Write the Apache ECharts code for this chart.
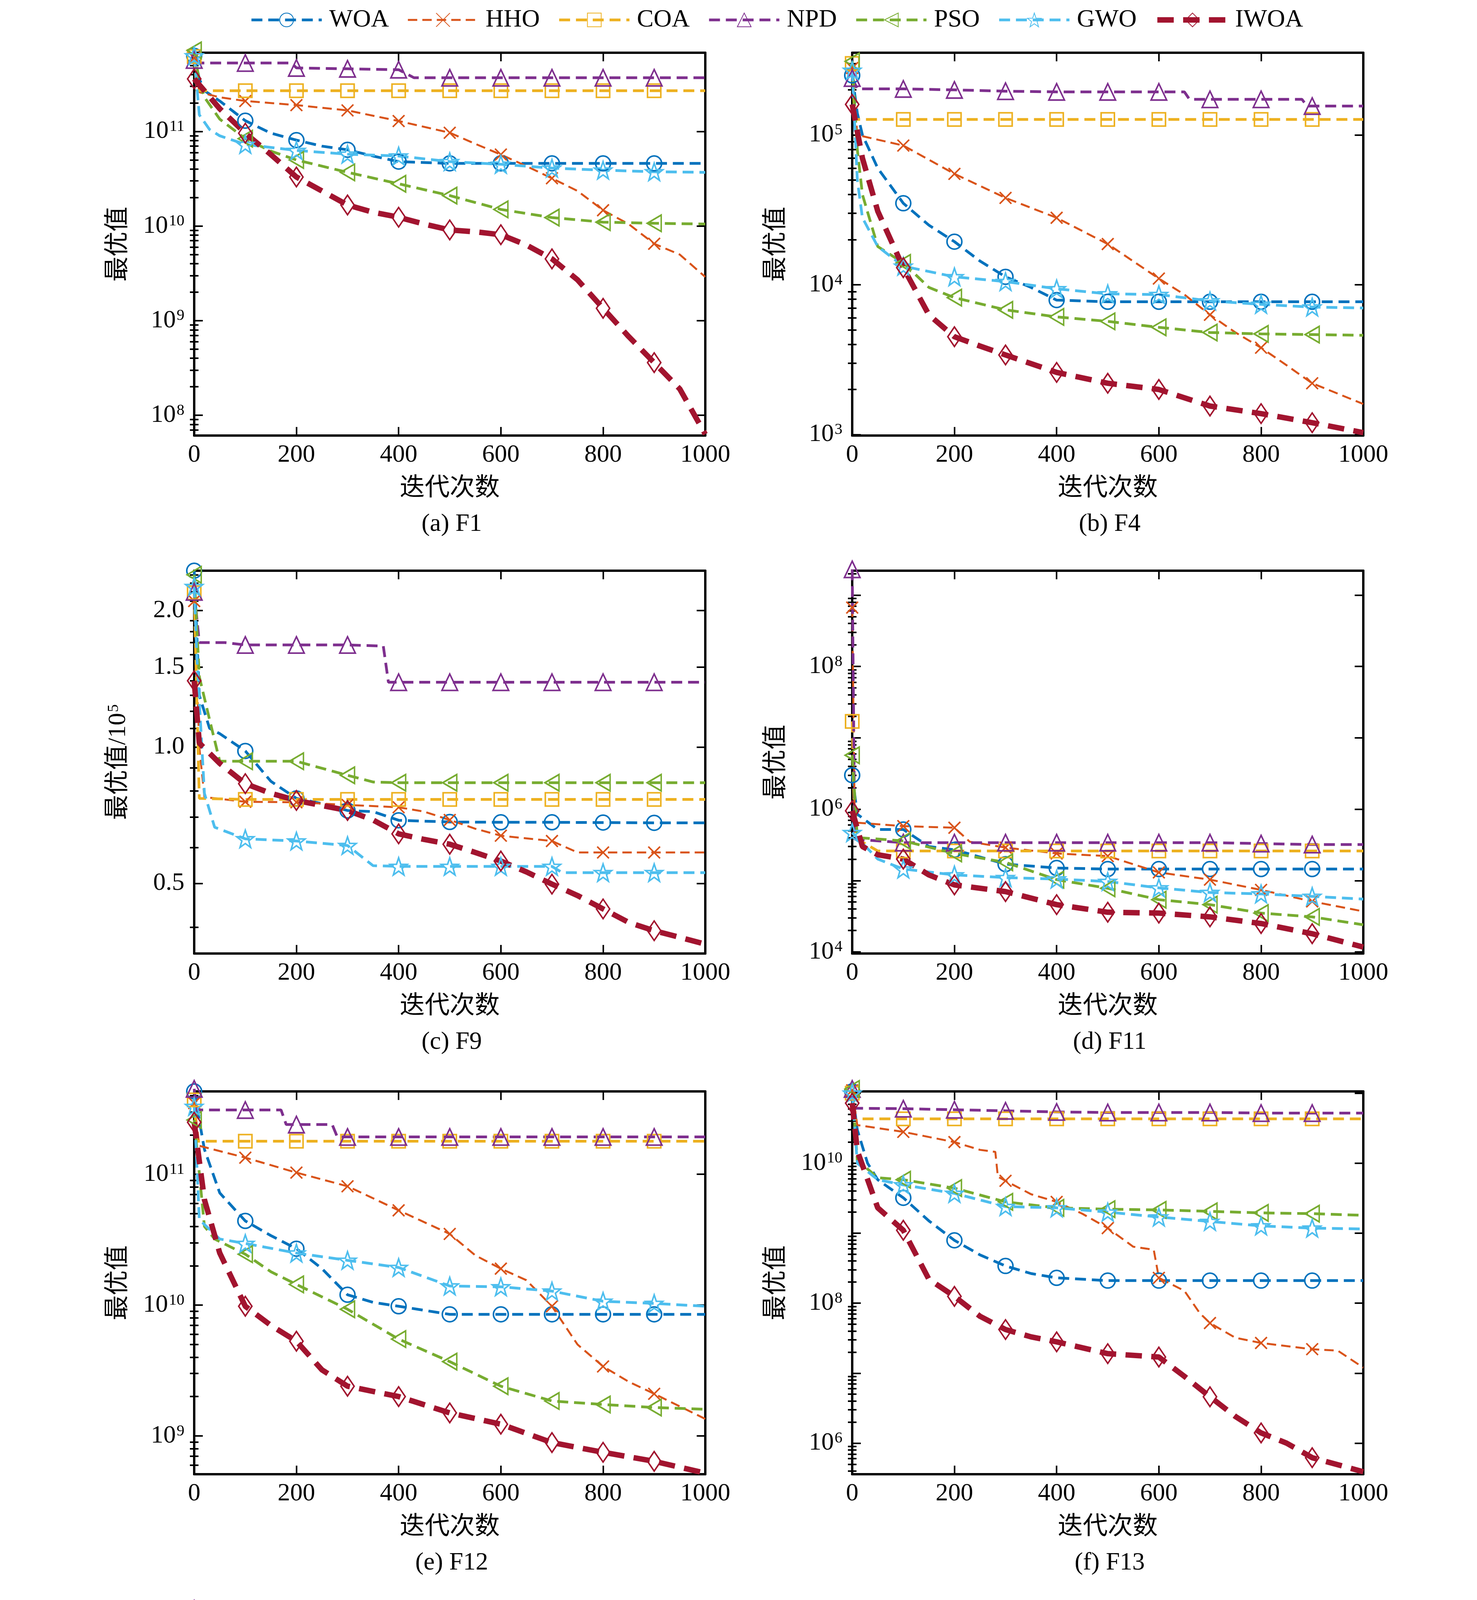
<!DOCTYPE html>
<html lang="zh">
<head>
<meta charset="UTF-8">
<title>收敛曲线</title>
<script src="https://cdn.jsdelivr.net/npm/echarts@6/dist/echarts.min.js"></script>
<style>
  html, body { margin: 0; padding: 0; background: #fff; }
  #main { width: 3780px; height: 6698px; }
</style>
</head>
<body>
<div id="main"></div>
<script>
// ---- 数据：[迭代次数, 最优值] ----
var SERIES_NAMES = ['WOA', 'HHO', 'COA', 'NPD', 'PSO', 'GWO', 'IWOA'];

// (a) F1
var F1_WOA = [[0,6.3e11],[10,3.6e11],[20,2.7e11],[50,2.1e11],[100,1.3e11],[150,9.6e10],[200,8.1e10],[250,7.0e10],[300,6.4e10],[350,5.5e10],[400,4.8e10],[500,4.6e10],[600,4.6e10],[700,4.6e10],[800,4.6e10],[900,4.6e10],[1000,4.6e10]];
var F1_HHO = [[0,6.0e11],[10,2.6e11],[50,2.3e11],[100,2.1e11],[200,1.9e11],[300,1.67e11],[400,1.29e11],[500,9.7e10],[550,7.4e10],[600,5.7e10],[650,4.3e10],[700,3.2e10],[750,2.35e10],[800,1.47e10],[850,1.05e10],[900,6.5e9],[950,5.0e9],[1000,2.9e9]];
var F1_COA = [[0,6.2e11],[5,2.7e11],[100,2.7e11],[200,2.7e11],[300,2.7e11],[400,2.7e11],[500,2.7e11],[600,2.7e11],[700,2.7e11],[800,2.7e11],[900,2.7e11],[1000,2.7e11]];
var F1_NPD = [[0,5.7e11],[10,5.3e11],[100,5.3e11],[190,5.3e11],[200,4.7e11],[300,4.6e11],[400,4.5e11],[430,3.7e11],[500,3.7e11],[600,3.7e11],[700,3.7e11],[800,3.7e11],[900,3.7e11],[1000,3.7e11]];
var F1_PSO = [[0,7.2e11],[10,3.4e11],[20,2.3e11],[50,1.35e11],[100,8.4e10],[150,6.2e10],[200,5.0e10],[300,3.7e10],[400,2.8e10],[500,2.1e10],[600,1.5e10],[700,1.23e10],[800,1.1e10],[900,1.07e10],[1000,1.05e10]];
var F1_GWO = [[0,6.3e11],[10,1.5e11],[30,1.05e11],[50,9.0e10],[100,7.3e10],[200,6.3e10],[300,5.75e10],[400,5.5e10],[500,4.8e10],[600,4.5e10],[700,4.1e10],[800,3.9e10],[900,3.75e10],[1000,3.7e10]];
var F1_IWOA = [[0,3.6e11],[50,1.74e11],[100,9.6e10],[150,5.7e10],[200,3.3e10],[250,2.35e10],[300,1.67e10],[350,1.4e10],[400,1.24e10],[450,1.05e10],[500,9.1e9],[550,8.7e9],[600,8.1e9],[650,6.3e9],[700,4.5e9],[750,2.7e9],[800,1.35e9],[850,6.8e8],[900,3.6e8],[950,1.9e8],[1000,6.3e7]];

// (b) F4
var F4_WOA = [[0,2.5e5],[10,1.4e5],[20,1.0e5],[50,6.0e4],[100,3.5e4],[150,2.5e4],[200,1.94e4],[250,1.44e4],[300,1.13e4],[350,9.6e3],[400,7.9e3],[500,7.7e3],[600,7.7e3],[700,7.7e3],[800,7.7e3],[900,7.7e3],[1000,7.7e3]];
var F4_HHO = [[0,2.8e5],[10,1.0e5],[50,9.3e4],[100,8.5e4],[200,5.5e4],[300,3.8e4],[400,2.8e4],[500,1.87e4],[600,1.1e4],[650,8.6e3],[700,6.3e3],[750,4.8e3],[800,3.8e3],[850,2.9e3],[900,2.2e3],[1000,1.6e3]];
var F4_COA = [[0,3.0e5],[5,1.27e5],[100,1.27e5],[200,1.27e5],[300,1.27e5],[400,1.27e5],[500,1.27e5],[600,1.27e5],[700,1.27e5],[800,1.27e5],[900,1.27e5],[1000,1.27e5]];
var F4_NPD = [[0,2.4e5],[10,2.03e5],[100,2.03e5],[200,2.0e5],[300,1.96e5],[400,1.94e5],[500,1.94e5],[600,1.94e5],[650,1.94e5],[660,1.73e5],[700,1.73e5],[800,1.73e5],[880,1.73e5],[890,1.56e5],[900,1.56e5],[1000,1.56e5]];
var F4_PSO = [[0,3.1e5],[10,8.0e4],[20,4.0e4],[50,1.8e4],[100,1.4e4],[150,9.6e3],[200,8.2e3],[300,6.8e3],[400,6.1e3],[500,5.7e3],[600,5.2e3],[700,4.8e3],[800,4.7e3],[900,4.65e3],[1000,4.6e3]];
var F4_GWO = [[0,2.7e5],[10,5.0e4],[20,2.8e4],[50,1.8e4],[100,1.33e4],[200,1.13e4],[300,1.05e4],[400,9.4e3],[500,8.7e3],[600,8.6e3],[700,7.8e3],[800,7.4e3],[900,7.1e3],[1000,7.0e3]];
var F4_IWOA = [[0,1.6e5],[20,7.0e4],[50,3.1e4],[100,1.3e4],[150,6.3e3],[200,4.5e3],[250,3.9e3],[300,3.4e3],[400,2.6e3],[500,2.2e3],[600,2.0e3],[700,1.55e3],[800,1.38e3],[900,1.2e3],[1000,1.03e3]];

// (c) F9，单位 10^5
var F9_WOA = [[0,2.45],[10,1.3],[30,1.1],[50,1.07],[100,0.98],[150,0.84],[200,0.77],[250,0.75],[300,0.724],[350,0.72],[400,0.689],[500,0.683],[600,0.682],[700,0.682],[800,0.681],[900,0.68],[1000,0.68]];
var F9_HHO = [[0,2.1],[10,1.0],[20,0.775],[100,0.757],[200,0.755],[300,0.745],[400,0.736],[450,0.72],[500,0.69],[550,0.66],[600,0.637],[700,0.62],[750,0.585],[800,0.585],[900,0.585],[1000,0.585]];
var F9_COA = [[0,2.19],[10,0.77],[100,0.766],[200,0.766],[300,0.766],[400,0.766],[500,0.766],[600,0.766],[700,0.766],[800,0.766],[900,0.766],[1000,0.766]];
var F9_NPD = [[0,2.2],[10,1.70],[60,1.70],[100,1.68],[200,1.68],[300,1.68],[370,1.67],[380,1.39],[400,1.39],[500,1.39],[600,1.39],[700,1.39],[800,1.39],[900,1.39],[1000,1.39]];
var F9_PSO = [[0,2.4],[10,1.43],[30,1.15],[50,0.93],[100,0.93],[200,0.93],[300,0.866],[350,0.837],[400,0.834],[500,0.834],[600,0.834],[700,0.834],[800,0.834],[900,0.834],[1000,0.834]];
var F9_GWO = [[0,2.26],[5,1.6],[20,0.79],[40,0.665],[100,0.627],[200,0.62],[300,0.606],[350,0.547],[400,0.545],[500,0.545],[600,0.545],[700,0.545],[720,0.528],[800,0.528],[900,0.528],[1000,0.528]];
var F9_IWOA = [[0,1.40],[10,1.02],[50,0.92],[100,0.83],[150,0.79],[200,0.762],[300,0.724],[350,0.69],[400,0.643],[450,0.625],[500,0.61],[550,0.585],[600,0.56],[650,0.53],[700,0.498],[750,0.47],[800,0.439],[850,0.41],[900,0.393],[950,0.38],[1000,0.367]];

// (d) F11
var F11_WOA = [[0,3.0e6],[10,8.5e5],[50,5.2e5],[100,5.2e5],[150,3.0e5],[200,2.7e5],[300,1.7e5],[400,1.5e5],[500,1.45e5],[600,1.45e5],[700,1.45e5],[800,1.45e5],[900,1.45e5],[1000,1.45e5]];
var F11_HHO = [[0,6.7e8],[5,6.5e5],[100,5.8e5],[200,5.5e5],[230,3.5e5],[300,2.9e5],[400,2.4e5],[500,2.2e5],[600,1.3e5],[700,1.03e5],[800,7.4e4],[900,5.1e4],[1000,3.7e4]];
var F11_COA = [[0,1.7e7],[5,4.0e5],[50,2.6e5],[100,2.6e5],[200,2.6e5],[300,2.6e5],[400,2.6e5],[500,2.6e5],[600,2.6e5],[700,2.6e5],[800,2.6e5],[900,2.6e5],[1000,2.6e5]];
var F11_NPD = [[0,2.3e9],[5,3.8e5],[100,3.4e5],[200,3.4e5],[300,3.4e5],[400,3.4e5],[500,3.4e5],[600,3.4e5],[700,3.4e5],[800,3.3e5],[900,3.2e5],[1000,3.2e5]];
var F11_PSO = [[0,5.7e6],[10,4.0e5],[100,3.6e5],[200,2.4e5],[300,1.8e5],[400,1.03e5],[500,7.8e4],[600,5.4e4],[700,4.6e4],[800,3.5e4],[900,3.1e4],[1000,2.4e4]];
var F11_GWO = [[0,4.7e5],[50,2.0e5],[100,1.45e5],[200,1.2e5],[300,1.1e5],[400,1.05e5],[500,9.7e4],[600,7.9e4],[700,6.8e4],[800,6.5e4],[900,6.0e4],[1000,5.5e4]];
var F11_IWOA = [[0,9.5e5],[20,3.0e5],[50,2.3e5],[100,2.0e5],[150,1.2e5],[200,8.7e4],[300,7.0e4],[400,4.6e4],[500,3.6e4],[600,3.5e4],[700,3.1e4],[800,2.5e4],[900,1.8e4],[1000,1.17e4]];

// (e) F12
var F12_WOA = [[0,4.3e11],[20,1.55e11],[50,7.2e10],[100,4.4e10],[150,3.4e10],[200,2.7e10],[250,1.9e10],[300,1.2e10],[350,1.05e10],[400,9.8e9],[500,8.5e9],[600,8.5e9],[700,8.5e9],[800,8.5e9],[900,8.5e9],[1000,8.5e9]];
var F12_HHO = [[0,3.5e11],[10,1.65e11],[100,1.34e11],[200,1.03e11],[300,8.1e10],[400,5.3e10],[500,3.5e10],[550,2.4e10],[600,1.9e10],[650,1.55e10],[700,9.8e9],[750,5.0e9],[800,3.4e9],[850,2.6e9],[900,2.1e9],[1000,1.35e9]];
var F12_COA = [[0,3.7e11],[5,1.79e11],[100,1.79e11],[200,1.79e11],[300,1.79e11],[400,1.79e11],[500,1.79e11],[600,1.79e11],[700,1.79e11],[800,1.79e11],[900,1.79e11],[1000,1.79e11]];
var F12_NPD = [[0,4.5e11],[5,3.1e11],[100,3.1e11],[170,3.1e11],[180,2.4e11],[200,2.4e11],[270,2.4e11],[280,1.93e11],[300,1.93e11],[400,1.93e11],[500,1.93e11],[600,1.93e11],[700,1.93e11],[800,1.93e11],[900,1.93e11],[1000,1.93e11]];
var F12_PSO = [[0,2.6e11],[20,4.0e10],[40,3.2e10],[100,2.45e10],[150,1.8e10],[200,1.44e10],[300,9.3e9],[400,5.5e9],[500,3.7e9],[600,2.4e9],[700,1.85e9],[800,1.74e9],[900,1.65e9],[1000,1.6e9]];
var F12_GWO = [[0,3.3e11],[10,4.5e10],[50,3.2e10],[100,2.96e10],[200,2.5e10],[300,2.2e10],[400,1.94e10],[500,1.4e10],[600,1.38e10],[700,1.28e10],[800,1.07e10],[900,1.03e10],[1000,9.8e9]];
var F12_IWOA = [[0,2.5e11],[20,6.4e10],[50,2.5e10],[100,9.8e9],[150,7.0e9],[200,5.3e9],[250,3.2e9],[300,2.4e9],[400,2.0e9],[500,1.5e9],[600,1.23e9],[700,8.9e8],[800,7.5e8],[900,6.4e8],[1000,5.2e8]];

// (f) F13
var F13_WOA = [[0,1.06e11],[10,3.0e10],[30,1.0e10],[50,5.8e9],[100,3.2e9],[150,1.5e9],[200,7.9e8],[250,4.9e8],[300,3.4e8],[350,2.65e8],[400,2.3e8],[500,2.1e8],[600,2.1e8],[700,2.1e8],[800,2.1e8],[900,2.1e8],[1000,2.1e8]];
var F13_HHO = [[0,1.1e11],[10,3.5e10],[100,2.8e10],[200,2.0e10],[250,1.55e10],[280,1.45e10],[285,6.4e9],[300,5.6e9],[350,3.6e9],[400,2.8e9],[450,1.9e9],[500,1.18e9],[550,6.4e8],[590,5.8e8],[600,2.3e8],[650,1.5e8],[680,7.2e7],[700,5.2e7],[750,3.2e7],[800,2.7e7],[900,2.2e7],[950,2.1e7],[1000,1.2e7]];
var F13_COA = [[0,1.0e11],[5,4.3e10],[100,4.3e10],[200,4.3e10],[300,4.3e10],[400,4.3e10],[500,4.3e10],[600,4.3e10],[700,4.3e10],[800,4.3e10],[900,4.3e10],[1000,4.3e10]];
var F13_NPD = [[0,1.15e11],[5,6.1e10],[100,6.0e10],[200,5.8e10],[300,5.6e10],[400,5.4e10],[500,5.3e10],[600,5.3e10],[700,5.3e10],[800,5.2e10],[900,5.2e10],[1000,5.2e10]];
var F13_PSO = [[0,1.15e11],[10,1.1e10],[50,6.2e9],[100,5.8e9],[200,4.4e9],[300,2.8e9],[400,2.3e9],[500,2.2e9],[600,2.15e9],[700,2.05e9],[800,1.95e9],[900,1.9e9],[1000,1.8e9]];
var F13_GWO = [[0,1.0e11],[10,1.0e10],[50,5.8e9],[100,4.9e9],[200,3.7e9],[300,2.4e9],[400,2.3e9],[500,2.0e9],[600,1.7e9],[700,1.47e9],[800,1.27e9],[900,1.18e9],[1000,1.15e9]];
var F13_IWOA = [[0,7.2e10],[10,1.5e10],[50,2.3e9],[100,1.1e9],[150,2.2e8],[200,1.25e8],[250,6.5e7],[300,4.2e7],[350,3.3e7],[400,2.8e7],[500,1.9e7],[600,1.7e7],[650,9.0e6],[700,4.6e6],[750,2.4e6],[800,1.4e6],[850,1.0e6],[900,6.2e5],[1000,3.9e5]];

// (g) F19
var F19_WOA = [[0,2.4e10],[10,1.0e10],[30,4.8e9],[50,3.0e9],[100,1.0e9],[150,4.8e8],[180,2.8e8],[200,2.0e8],[300,1.56e8],[400,1.35e8],[500,1.27e8],[600,1.27e8],[700,1.27e8],[800,1.27e8],[900,1.27e8],[1000,1.27e8]];
var F19_HHO = [[0,3.7e10],[10,2.5e10],[30,1.8e10],[100,9.5e9],[150,6.5e9],[200,4.1e9],[250,3.7e9],[300,2.9e9],[350,2.3e9],[380,1.9e9],[400,1.23e9],[450,7.8e8],[500,3.5e8],[520,1.8e8],[550,1.75e8],[600,8.4e7],[650,6.5e7],[700,4.4e7],[750,3.6e7],[800,2.9e7],[850,2.3e7],[900,2.2e7],[950,2.1e7],[1000,1.6e7]];
var F19_COA = [[0,4.9e10],[5,1.88e10],[100,1.88e10],[200,1.88e10],[300,1.88e10],[400,1.88e10],[500,1.88e10],[600,1.88e10],[700,1.88e10],[800,1.88e10],[900,1.88e10],[1000,1.88e10]];
var F19_NPD = [[0,5.6e10],[5,2.65e10],[100,2.65e10],[200,2.65e10],[300,2.65e10],[400,2.65e10],[450,2.65e10],[470,2.4e10],[500,2.4e10],[600,2.4e10],[700,2.4e10],[800,2.4e10],[900,2.4e10],[1000,2.4e10]];
var F19_PSO = [[0,4.4e10],[10,3.0e9],[30,1.55e9],[100,1.3e9],[200,8.5e8],[300,4.1e8],[400,2.4e8],[500,1.05e8],[600,7.6e7],[700,5.5e7],[800,4.2e7],[900,3.6e7],[1000,3.6e7]];
var F19_GWO = [[0,4.9e10],[10,3.0e9],[30,1.55e9],[100,1.55e9],[200,1.13e9],[300,1.0e9],[400,7.8e8],[500,4.9e8],[600,4.4e8],[700,3.4e8],[800,2.7e8],[900,2.1e8],[1000,1.3e8]];
var F19_IWOA = [[0,3.7e10],[10,5.0e9],[20,1.4e9],[40,3.0e8],[50,1.3e8],[80,7.7e7],[100,3.5e7],[150,2.2e7],[200,1.37e7],[300,1.04e7],[400,6.8e6],[500,5.6e6],[600,5.3e6],[700,3.1e6],[800,2.5e6],[900,2.1e6],[1000,1.23e6]];

// (h) F25，单位 10^4
var F25_MARKS = [115, 291, 467, 643, 820];
var F25_WOA = [[0,0.76],[50,0.748],[115,0.748],[291,0.748],[467,0.748],[643,0.748],[820,0.748],[1000,0.748]];
var F25_HHO = [[0,0.955],[50,0.91],[100,0.847],[115,0.816],[150,0.78],[200,0.704],[250,0.668],[291,0.654],[350,0.61],[400,0.585],[467,0.55],[550,0.51],[600,0.486],[643,0.477],[700,0.448],[820,0.437],[900,0.42],[1000,0.404]];
var F25_COA = [[0,2.86],[115,2.86],[291,2.86],[467,2.86],[643,2.86],[820,2.86],[1000,2.86]];
var F25_PSO = [[0,0.691],[115,0.66],[200,0.635],[291,0.624],[350,0.60],[400,0.585],[467,0.575],[550,0.566],[643,0.562],[820,0.557],[1000,0.555]];
var F25_GWO = [[0,0.569],[115,0.562],[200,0.549],[291,0.547],[400,0.543],[467,0.539],[643,0.524],[820,0.512],[1000,0.507]];
var F25_IWOA = [[0,0.488],[115,0.479],[291,0.467],[350,0.45],[400,0.434],[467,0.416],[550,0.398],[643,0.386],[750,0.374],[820,0.369],[1000,0.359]];

// (i) F27，单位 10^4
var F27_WOA = [[0,1.69],[10,0.95],[30,0.72],[50,0.648],[100,0.604],[200,0.557],[300,0.53],[400,0.515],[500,0.509],[600,0.509],[700,0.509],[800,0.509],[900,0.509],[1000,0.509]];
var F27_HHO = [[0,2.0],[10,1.38],[30,1.17],[50,1.10],[100,1.04],[200,0.957],[250,0.88],[300,0.829],[350,0.80],[400,0.723],[500,0.682],[550,0.645],[600,0.621],[650,0.585],[700,0.557],[750,0.545],[800,0.515],[900,0.493],[1000,0.465]];
var F27_COA = [[0,1.76],[10,1.50],[100,1.50],[200,1.50],[300,1.50],[400,1.50],[500,1.50],[600,1.50],[700,1.50],[800,1.50],[900,1.50],[1000,1.50]];
var F27_NPD = [[0,1.66],[10,1.55],[100,1.55],[200,1.53],[300,1.51],[390,1.51],[400,1.37],[410,1.30],[430,1.19],[500,1.19],[600,1.19],[700,1.19],[800,1.19],[900,1.19],[1000,1.19]];
var F27_PSO = [[0,1.455],[10,0.85],[20,0.60],[40,0.46],[100,0.439],[200,0.427],[300,0.403],[400,0.391],[500,0.383],[600,0.378],[700,0.374],[800,0.372],[900,0.372],[1000,0.372]];
var F27_GWO = [[0,1.67],[10,0.62],[20,0.57],[50,0.545],[100,0.53],[150,0.493],[200,0.492],[300,0.491],[400,0.487],[500,0.483],[600,0.472],[700,0.467],[800,0.456],[900,0.44],[1000,0.428]];
var F27_IWOA = [[0,1.887],[10,0.70],[20,0.48],[40,0.427],[100,0.40],[200,0.386],[300,0.38],[400,0.376],[500,0.372],[600,0.371],[700,0.37],[800,0.368],[900,0.368],[1000,0.368]];

// (j) F28，单位 10^4
var F28_MARKS = [122, 269, 415, 561, 707, 852];
var F28_WOA = [[0,0.937],[80,0.90],[122,0.85],[269,0.812],[415,0.809],[561,0.808],[707,0.807],[852,0.806],[1000,0.804]];
var F28_HHO = [[0,1.76],[50,1.72],[122,1.65],[200,1.53],[269,1.42],[300,1.32],[350,1.18],[415,1.10],[450,1.02],[500,0.946],[561,0.879],[600,0.83],[650,0.786],[707,0.711],[750,0.654],[800,0.607],[852,0.575],[900,0.546],[950,0.515],[1000,0.478]];
var F28_PSO = [[0,0.982],[122,0.926],[269,0.863],[415,0.824],[561,0.794],[707,0.751],[852,0.744],[1000,0.742]];
var F28_GWO = [[0,1.0],[122,0.99],[269,0.967],[415,0.946],[500,0.93],[561,0.895],[650,0.86],[707,0.847],[852,0.835],[1000,0.816]];
var F28_IWOA = [[0,0.514],[122,0.473],[269,0.45],[415,0.432],[561,0.408],[707,0.386],[852,0.372],[1000,0.364]];

// 轴标题
var X_LABEL = '迭代次数';
var Y_LABEL = '最优值';

// ---- 样式与布局 ----
var FONT = "'Liberation Serif', 'Noto Sans CJK SC', serif";
var GRID_LEFT = [497, 2181];
var GRID_TOP = [135, 1461, 2794, 4122, 5453];
var GRID_W = 1308, GRID_H = 980;

// 五角星符号
var starPath = (function () {
    var pts = [];
    for (var k = 0; k < 10; k++) {
        var r = k % 2 === 0 ? 50 : 20;
        var a = -Math.PI / 2 + k * Math.PI / 5;
        pts.push((50 + r * Math.cos(a)).toFixed(2) + ',' + (50 + r * Math.sin(a)).toFixed(2));
    }
    return 'path://M' + pts.join('L') + 'Z';
})();

var STYLE = {
    WOA:  { color: '#0072BD', symbol: 'circle', size: 38, width: 7, dash: [28, 15] },
    HHO:  { color: '#D95319', symbol: 'path://M0,0L10,10M10,0L0,10', size: 30, width: 5, dash: [24, 13] },
    COA:  { color: '#EDB120', symbol: 'rect', size: 34, width: 7, dash: [28, 15] },
    NPD:  { color: '#7E2F8E', symbol: 'triangle', size: [40, 42], width: 7, dash: [28, 15] },
    PSO:  { color: '#77AC30', symbol: 'path://M0,5L10,0L10,10Z', size: [36, 42], width: 7, dash: [28, 15] },
    GWO:  { color: '#4DBEEE', symbol: starPath, size: 44, width: 7, dash: [28, 15] },
    IWOA: { color: '#A2142F', symbol: 'diamond', size: [34, 50], width: 14, dash: [42, 24] }
};

function cleanNum(v) { return Number(v.toPrecision(6)); }

var panels = [
    { title: '(a) F1', data: { WOA: F1_WOA, HHO: F1_HHO, COA: F1_COA, NPD: F1_NPD, PSO: F1_PSO, GWO: F1_GWO, IWOA: F1_IWOA }, min: 6.1e7, max: 6.8e11, kind: 'pow', step: 1 },
    { title: '(b) F4', data: { WOA: F4_WOA, HHO: F4_HHO, COA: F4_COA, NPD: F4_NPD, PSO: F4_PSO, GWO: F4_GWO, IWOA: F4_IWOA }, min: 985, max: 3.54e5, kind: 'pow', step: 1 },
    { title: '(c) F9', data: { WOA: F9_WOA, HHO: F9_HHO, COA: F9_COA, NPD: F9_NPD, PSO: F9_PSO, GWO: F9_GWO, IWOA: F9_IWOA }, min: 0.35, max: 2.45, kind: 'lin', ticks: [0.5, 1, 1.5, 2], digits: 1, exp: 5 },
    { title: '(d) F11', data: { WOA: F11_WOA, HHO: F11_HHO, COA: F11_COA, NPD: F11_NPD, PSO: F11_PSO, GWO: F11_GWO, IWOA: F11_IWOA }, min: 9.5e3, max: 2.2e9, kind: 'pow', step: 2 },
    { title: '(e) F12', data: { WOA: F12_WOA, HHO: F12_HHO, COA: F12_COA, NPD: F12_NPD, PSO: F12_PSO, GWO: F12_GWO, IWOA: F12_IWOA }, min: 5.1e8, max: 4.3e11, kind: 'pow', step: 1 },
    { title: '(f) F13', data: { WOA: F13_WOA, HHO: F13_HHO, COA: F13_COA, NPD: F13_NPD, PSO: F13_PSO, GWO: F13_GWO, IWOA: F13_IWOA }, min: 3.6e5, max: 1.06e11, kind: 'pow', step: 2 },
    { title: '(g) F19', data: { WOA: F19_WOA, HHO: F19_HHO, COA: F19_COA, NPD: F19_NPD, PSO: F19_PSO, GWO: F19_GWO, IWOA: F19_IWOA }, min: 1.2e6, max: 5.4e10, kind: 'pow', step: 1 },
    { title: '(h) F25', data: { WOA: F25_WOA, HHO: F25_HHO, COA: F25_COA, PSO: F25_PSO, GWO: F25_GWO, IWOA: F25_IWOA }, min: 0.354, max: 2.96, kind: 'lin', ticks: [0.5, 1, 1.5, 2, 2.5], digits: 1, exp: 4, marks: F25_MARKS },
    { title: '(i) F27', data: { WOA: F27_WOA, HHO: F27_HHO, COA: F27_COA, NPD: F27_NPD, PSO: F27_PSO, GWO: F27_GWO, IWOA: F27_IWOA }, min: 0.367, max: 2.002, kind: 'lin', ticks: [0.5, 1, 1.5, 2], digits: 2, exp: 4 },
    { title: '(j) F28', data: { WOA: F28_WOA, HHO: F28_HHO, PSO: F28_PSO, GWO: F28_GWO, IWOA: F28_IWOA }, min: 0.321, max: 2.79, kind: 'lin', ticks: [0.5, 1, 1.5, 2, 2.5], digits: 1, exp: 4, marks: F28_MARKS }
];

var STD_MARKS = [];
for (var m = 0; m < 1000; m += 100) STD_MARKS.push(m);

var grids = [], xAxes = [], yAxes = [], series = [], titles = [];

var AXIS_W = 6;
var lineCfg = { show: true, onZero: false, lineStyle: { color: '#000', width: AXIS_W } };
var noLine = { show: false };
var tickStyle = { color: '#000', width: 4 };

panels.forEach(function (p, i) {
    var col = i % 2, row = Math.floor(i / 2);
    var left = GRID_LEFT[col], top = GRID_TOP[row];
    grids.push({ left: left, top: top, width: GRID_W, height: GRID_H });

    // 刻度位置
    var major = [], labels = [], minor = [];
    if (p.kind === 'pow') {
        var lo = Math.floor(Math.log10(p.min)), hi = Math.ceil(Math.log10(p.max));
        for (var n = lo; n <= hi; n++) {
            var v = cleanNum(Math.pow(10, n));
            if (v >= p.min && v <= p.max) {
                major.push(v);
                if (n % p.step === 0) labels.push(v);
            }
            for (var k = 2; k <= 9; k++) {
                var mv = cleanNum(k * Math.pow(10, n));
                if (mv >= p.min && mv <= p.max) minor.push(mv);
            }
        }
    } else {
        major = p.ticks.slice();
        labels = p.ticks.slice();
        for (var t = Math.ceil(p.min * 10); t <= Math.floor(p.max * 10); t++) {
            var tv = cleanNum(t / 10);
            if (major.indexOf(tv) < 0) minor.push(tv);
        }
    }

    var labelFmt, yName;
    var supRich = { e: { fontSize: 40, fontFamily: FONT, color: '#000', verticalAlign: 'top', padding: [0, 0, 0, 2] } };
    if (p.kind === 'pow') {
        labelFmt = function (val) { return '10{e|' + Math.round(Math.log10(val)) + '}'; };
        yName = Y_LABEL;
    } else {
        var d = p.digits;
        labelFmt = function (val) { return val.toFixed(d); };
        yName = Y_LABEL + '/10{e|' + p.exp + '}';
    }

    var xb = xAxes.length;
    var xTicks = p.marks || undefined;
    xAxes.push({
        gridIndex: i, type: 'value', position: 'bottom', min: 0, max: 1000, interval: 200,
        name: X_LABEL, nameLocation: 'middle', nameGap: 104,
        nameTextStyle: { fontSize: 64, fontFamily: FONT, color: '#000' },
        axisLine: lineCfg,
        axisTick: { inside: true, length: 22, lineStyle: tickStyle, customValues: xTicks },
        axisLabel: { fontSize: 64, fontFamily: FONT, color: '#000', margin: 18, formatter: function (v) { return String(v); } },
        splitLine: { show: false }
    });
    xAxes.push({
        gridIndex: i, type: 'value', position: 'top', min: 0, max: 1000, interval: 200,
        axisLine: lineCfg,
        axisTick: { inside: true, length: 22, lineStyle: tickStyle, customValues: xTicks },
        axisLabel: { show: false },
        splitLine: { show: false }
    });

    var yl = yAxes.length;
    var baseY = { gridIndex: i, type: 'log', logBase: 10, min: p.min, max: p.max, splitLine: { show: false } };
    yAxes.push(Object.assign({}, baseY, {
        position: 'left',
        name: yName, nameLocation: 'middle', nameGap: 162, nameRotate: 90,
        nameTextStyle: { fontSize: 64, fontFamily: FONT, color: '#000', rich: supRich },
        axisLine: lineCfg,
        axisTick: { inside: true, length: 22, lineStyle: tickStyle, customValues: major },
        axisLabel: { customValues: labels, formatter: labelFmt, rich: supRich, fontSize: 64, fontFamily: FONT, color: '#000', margin: 25 }
    }));
    yAxes.push(Object.assign({}, baseY, {
        position: 'right',
        axisLine: lineCfg,
        axisTick: { inside: true, length: 22, lineStyle: tickStyle, customValues: major },
        axisLabel: { show: false }
    }));
    yAxes.push(Object.assign({}, baseY, {
        position: 'left', axisLine: noLine,
        axisTick: { inside: true, length: 11, lineStyle: tickStyle, customValues: minor },
        axisLabel: { show: false }
    }));
    yAxes.push(Object.assign({}, baseY, {
        position: 'right', axisLine: noLine,
        axisTick: { inside: true, length: 11, lineStyle: tickStyle, customValues: minor },
        axisLabel: { show: false }
    }));

    var markSet = p.marks || STD_MARKS;
    SERIES_NAMES.forEach(function (name) {
        var pts = p.data[name];
        if (!pts) return;
        var st = STYLE[name];
        series.push({
            type: 'line', name: name, xAxisIndex: xb, yAxisIndex: yl,
            data: pts.map(function (pt) {
                return markSet.indexOf(pt[0]) >= 0 ? { value: pt } : { value: pt, symbol: 'none' };
            }),
            symbol: st.symbol, symbolSize: st.size, showSymbol: true, showAllSymbol: true,
            clip: false, silent: true,
            lineStyle: { color: st.color, width: st.width, type: st.dash },
            itemStyle: { color: 'none', borderColor: st.color, borderWidth: 4 },
            emphasis: { disabled: true }
        });
    });

    titles.push({
        text: p.title, left: left + GRID_W / 2, top: top + GRID_H + 190, textAlign: 'center',
        textStyle: { fontSize: 64, fontWeight: 'normal', fontFamily: FONT, color: '#000' }
    });
});

var chart = echarts.init(document.getElementById('main'));
chart.setOption({
    backgroundColor: '#fff',
    animation: false,
    title: titles,
    legend: {
        data: SERIES_NAMES.map(function (nm) { return { name: nm, lineStyle: { width: STYLE[nm].width } }; }),
        left: 635, top: 14,
        itemWidth: 180, itemHeight: 44, itemGap: 46,
        textStyle: { fontSize: 64, fontFamily: FONT, color: '#000', padding: [0, 0, 0, 14] }
    },
    grid: grids,
    xAxis: xAxes,
    yAxis: yAxes,
    series: series
});
</script>
</body>
</html>
